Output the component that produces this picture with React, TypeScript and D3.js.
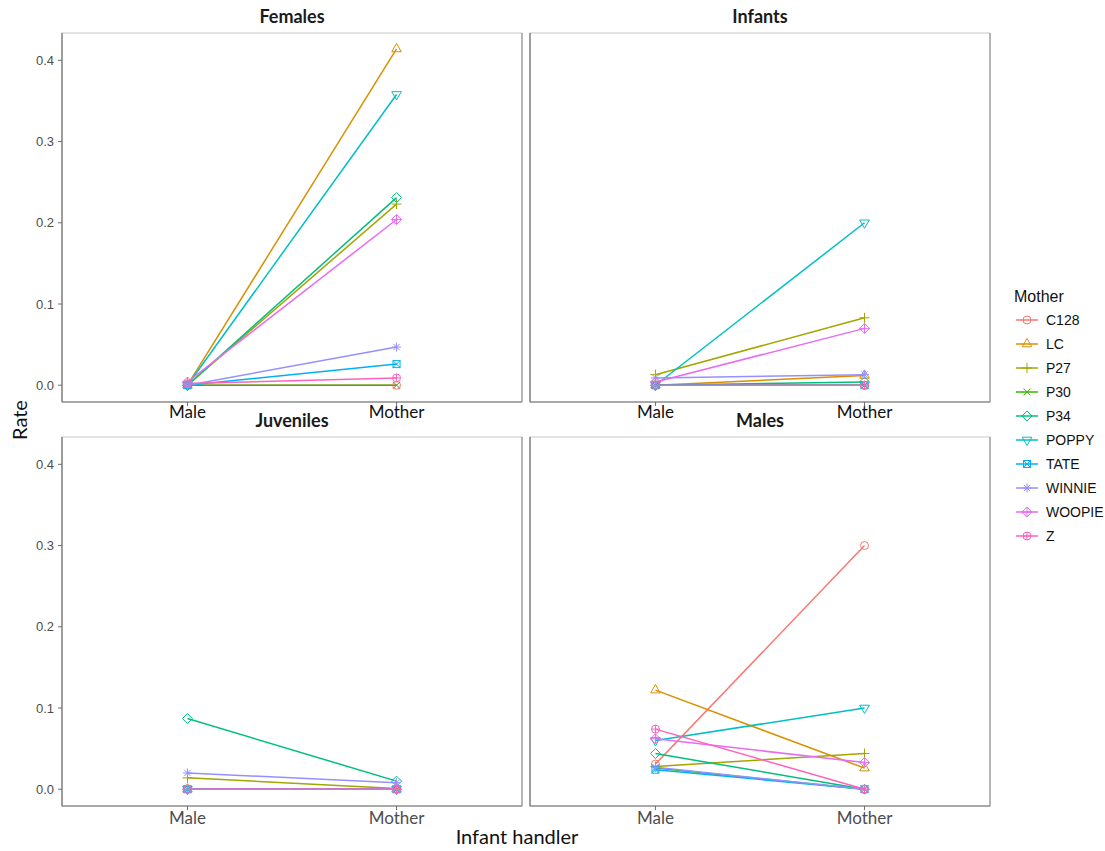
import React from 'react';
import * as d3 from 'd3';

const mothers = ['C128', 'LC', 'P27', 'P30', 'P34', 'POPPY', 'TATE', 'WINNIE', 'WOOPIE', 'Z'];
const colors = ['#F8766D', '#D89000', '#A3A500', '#39B600', '#00BF7D', '#00BFC4', '#00B0F6', '#9590FF', '#E76BF3', '#FF62BC'];
const shapes = ['circle', 'triangle', 'plus', 'cross', 'diamond', 'triangleDown', 'squareCross', 'asterisk', 'diamondPlus', 'circlePlus'];
const handlers = ['Male', 'Mother'];
const panels = ['Females', 'Infants', 'Juveniles', 'Males'];
const yTicks = [0, 0.1, 0.2, 0.3, 0.4];

// rate when handled by Male / by Mother, one pair per mother, in order of `mothers`
const femalesMale = [0, 0, 0, 0, 0, 0, 0, 0, 0.004, 0.002];
const femalesMother = [0, 0.414, 0.223, 0, 0.231, 0.358, 0.026, 0.047, 0.204, 0.009];
const infantsMale = [0, 0, 0.013, 0, 0, 0, 0, 0.009, 0.004, 0];
const infantsMother = [0, 0.012, 0.083, 0, 0.004, 0.2, 0, 0.013, 0.07, 0];
const juvenilesMale = [0, 0, 0.014, 0, 0.087, 0, 0, 0.02, 0, 0];
const juvenilesMother = [0, 0, 0.001, 0, 0.01, 0, 0, 0.008, 0, 0];
const malesMale = [0.031, 0.122, 0.028, 0.026, 0.044, 0.06, 0.024, 0.027, 0.062, 0.074];
const malesMother = [0.3, 0.026, 0.044, 0, 0, 0.1, 0, 0, 0.033, 0];

const panelData = [
  [femalesMale, femalesMother],
  [infantsMale, infantsMother],
  [juvenilesMale, juvenilesMother],
  [malesMale, malesMother],
];

const W = 460;
const H = 369;
const origins = [
  [62, 33],
  [530, 33],
  [62, 437],
  [530, 437],
];

const x = d3.scalePoint<string>().domain(handlers).range([0, W]).padding(0.6);
const y = d3.scaleLinear().domain([-0.02065, 0.43365]).range([H, 0]);

const Marker = ({ shape, color, cx, cy }: { shape: string; color: string; cx: number; cy: number }) => {
  const r = 4;
  const common = { fill: 'none', stroke: color, strokeWidth: 1 };
  const tri = d3.symbol().type(d3.symbolTriangle).size(40)() as string;
  switch (shape) {
    case 'circle':
      return <circle cx={cx} cy={cy} r={r} {...common} />;
    case 'triangle':
      return <path d={tri} transform={`translate(${cx},${cy})`} {...common} />;
    case 'triangleDown':
      return <path d={tri} transform={`translate(${cx},${cy}) rotate(180)`} {...common} />;
    case 'plus':
      return <path d={`M${cx - 5},${cy}H${cx + 5}M${cx},${cy - 5}V${cy + 5}`} {...common} />;
    case 'cross':
      return <path d={`M${cx - 3.5},${cy - 3.5}L${cx + 3.5},${cy + 3.5}M${cx - 3.5},${cy + 3.5}L${cx + 3.5},${cy - 3.5}`} {...common} />;
    case 'diamond':
      return <path d={`M${cx},${cy - 5}L${cx + 5},${cy}L${cx},${cy + 5}L${cx - 5},${cy}Z`} {...common} />;
    case 'squareCross':
      return (
        <g>
          <rect x={cx - 3.5} y={cy - 3.5} width={7} height={7} {...common} />
          <path d={`M${cx - 3.5},${cy - 3.5}L${cx + 3.5},${cy + 3.5}M${cx - 3.5},${cy + 3.5}L${cx + 3.5},${cy - 3.5}`} {...common} />
        </g>
      );
    case 'asterisk':
      return (
        <path
          d={`M${cx - 4.5},${cy}H${cx + 4.5}M${cx},${cy - 4.5}V${cy + 4.5}M${cx - 3.2},${cy - 3.2}L${cx + 3.2},${cy + 3.2}M${cx - 3.2},${cy + 3.2}L${cx + 3.2},${cy - 3.2}`}
          {...common}
        />
      );
    case 'diamondPlus':
      return (
        <g>
          <path d={`M${cx},${cy - 5}L${cx + 5},${cy}L${cx},${cy + 5}L${cx - 5},${cy}Z`} {...common} />
          <path d={`M${cx - 5},${cy}H${cx + 5}M${cx},${cy - 5}V${cy + 5}`} {...common} />
        </g>
      );
    case 'circlePlus':
      return (
        <g>
          <circle cx={cx} cy={cy} r={r} {...common} />
          <path d={`M${cx - 4},${cy}H${cx + 4}M${cx},${cy - 4}V${cy + 4}`} {...common} />
        </g>
      );
    default:
      return null;
  }
};

const Panel = ({ idx }: { idx: number }) => {
  const [ox, oy] = origins[idx];
  const [maleVals, motherVals] = panelData[idx];
  const isLeft = idx % 2 === 0;
  const isBottom = idx >= 2;
  const line = d3.line<[string, number]>().x(d => x(d[0]) as number).y(d => y(d[1]));
  return (
    <g transform={`translate(${ox},${oy})`}>
      <text x={W / 2} y={-10} textAnchor="middle" fontFamily="Lato, sans-serif" fontWeight="bold" fontSize={18} fill="#1a1a1a">
        {panels[idx]}
      </text>
      <rect x={0} y={0} width={W} height={H} fill="white" stroke="#c8c8c8" strokeWidth={1} />
      <line x1={0} x2={0} y1={0} y2={H} stroke="#6e6e6e" strokeWidth={1.2} />
      <line x1={0} x2={W} y1={H} y2={H} stroke="#6e6e6e" strokeWidth={1.2} />
      <line x1={W} x2={W} y1={0} y2={H} stroke="#8a8a8a" strokeWidth={1} />
      {isLeft &&
        yTicks.map(t => (
          <g key={t} transform={`translate(0,${y(t)})`}>
            <line x1={-4} x2={0} stroke="#6e6e6e" />
            <text x={-8} dy="0.35em" textAnchor="end" fontFamily="Liberation Sans, Arial, sans-serif" fontSize={13} fill="#4d4d4d">
              {t.toFixed(1)}
            </text>
          </g>
        ))}
      {handlers.map(h => (
        <g key={h} transform={`translate(${x(h)},${H})`}>
          <line y1={0} y2={4} stroke="#6e6e6e" />
          <text y={isBottom ? 18 : 16} textAnchor="middle" fontFamily="Lato, sans-serif" fontSize={17} fill={isBottom ? '#4d4d4d' : '#111'}>
            {h}
          </text>
        </g>
      ))}
      {mothers.map((m, i) => (
        <path
          key={m}
          d={line([
            ['Male', maleVals[i]],
            ['Mother', motherVals[i]],
          ]) as string}
          fill="none"
          stroke={colors[i]}
          strokeWidth={1.5}
        />
      ))}
      {mothers.map((m, i) => (
        <g key={m}>
          <Marker shape={shapes[i]} color={colors[i]} cx={x('Male') as number} cy={y(maleVals[i])} />
          <Marker shape={shapes[i]} color={colors[i]} cx={x('Mother') as number} cy={y(motherVals[i])} />
        </g>
      ))}
    </g>
  );
};

const Legend = () => (
  <g transform="translate(1014,296)">
    <text x={0} y={6} fontFamily="Liberation Sans, Arial, sans-serif" fontSize={16} fill="#111">
      Mother
    </text>
    {mothers.map((m, i) => {
      const cy = 24 + i * 24;
      return (
        <g key={m}>
          <line x1={2} x2={24} y1={cy} y2={cy} stroke={colors[i]} strokeWidth={1.5} />
          <Marker shape={shapes[i]} color={colors[i]} cx={13} cy={cy} />
          <text x={32} y={cy} dy="0.35em" fontFamily="Liberation Sans, Arial, sans-serif" fontSize={14} fill="#111">
            {m}
          </text>
        </g>
      );
    })}
  </g>
);

export default function App() {
  return (
    <svg width={1105} height={851} style={{ position: 'absolute', left: 0, top: 0, background: 'white' }}>
      <rect width={1105} height={851} fill="white" />
      {panels.map((p, i) => (
        <Panel key={p} idx={i} />
      ))}
      <text transform="translate(27,420) rotate(-90)" textAnchor="middle" fontFamily="Lato, sans-serif" fontSize={20} fill="#111">
        Rate
      </text>
      <text x={517} y={844} textAnchor="middle" fontFamily="Lato, sans-serif" fontSize={20} fill="#111">
        Infant handler
      </text>
      <Legend />
    </svg>
  );
}
